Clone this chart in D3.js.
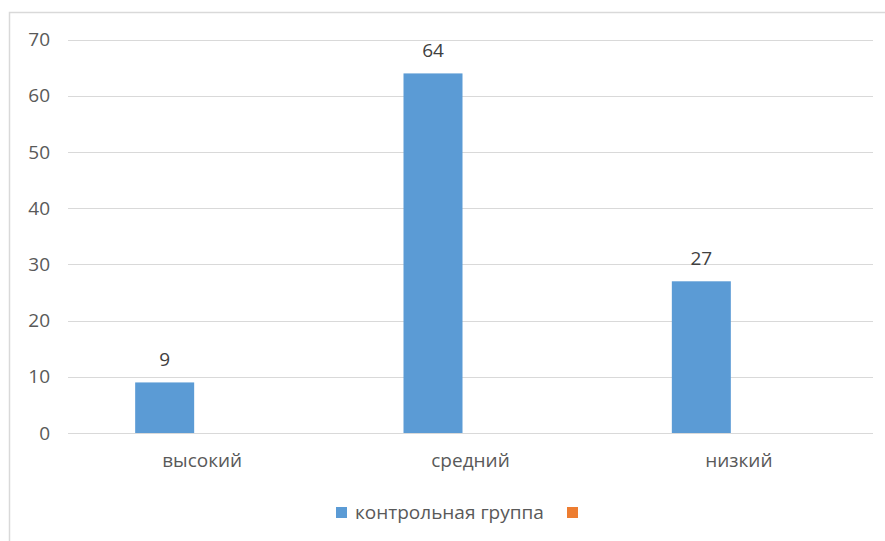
<!DOCTYPE html>
<html><head><meta charset="utf-8">
<script src="https://cdn.jsdelivr.net/npm/d3@7"></script>
<style>body{margin:0;background:#fff}svg{display:block}text{font-family:"Open Sans",sans-serif}</style>
</head><body>
<script>
const categories = ["высокий", "средний", "низкий"];
const seriesNames = ["контрольная группа", ""];
const series1 = [9, 64, 27];
const series2 = [null, null, null];
const yTicks = [0, 10, 20, 30, 40, 50, 60, 70];
const colors = ["#5b9bd5", "#ed7d31"];

(function () {
const W = 885, H = 541;
const svg = d3.select("body").append("svg").attr("width", W).attr("height", H);
svg.append("rect").attr("x", 9.5).attr("y", 12.5).attr("width", 900).attr("height", 600)
  .attr("fill", "#fff").attr("stroke", "#d9d9d9").attr("stroke-width", 1.5);

const pl = 68, pr = 873, pt = 39.7, pb = 433;
const fs = 19;
const x = d3.scaleBand().domain(categories).range([pl, pr]);
const y = d3.scaleLinear().domain([0, 70]).range([pb, pt]);

const grid = svg.append("g");
grid.selectAll("line").data(yTicks).join("line")
  .attr("x1", pl).attr("x2", pr)
  .attr("y1", d => Math.round(y(d)) + 0.5).attr("y2", d => Math.round(y(d)) + 0.5)
  .attr("stroke", "#d9d9d9").attr("stroke-width", 1);

const yAxis = svg.append("g").attr("transform", `translate(${pl},0)`)
  .call(d3.axisLeft(y).tickValues(yTicks).tickSize(0).tickPadding(18));
yAxis.select(".domain").remove();
yAxis.selectAll("text").attr("font-size", fs).attr("fill", "#595959").attr("font-family", "Open Sans");

const xAxis = svg.append("g").attr("transform", `translate(0,${pb})`)
  .call(d3.axisBottom(x).tickSize(0).tickPadding(21));
xAxis.select(".domain").remove();
xAxis.selectAll("text").attr("font-size", fs).attr("fill", "#595959").attr("font-family", "Open Sans");

const bw = 59, gap = 8;
const allSeries = [series1, series2];
allSeries.forEach((vals, si) => {
  const g = svg.append("g");
  const data = categories.map((c, i) => ({c, v: vals[i]})).filter(d => d.v != null);
  const xpos = d => x(d.c) + x.bandwidth() / 2 + (si === 0 ? -gap - bw : gap);
  g.selectAll("rect").data(data).join("rect")
    .attr("x", xpos).attr("width", bw)
    .attr("y", d => y(d.v)).attr("height", d => y(0) - y(d.v))
    .attr("fill", colors[si]);
  g.selectAll("text").data(data).join("text")
    .attr("x", d => xpos(d) + bw / 2).attr("y", d => y(d.v) - 16)
    .attr("text-anchor", "middle").attr("font-size", fs).attr("fill", "#404040")
    .text(d => d.v);
});

const lg = svg.append("g");
lg.append("rect").attr("x", 336).attr("y", 507).attr("width", 11).attr("height", 11).attr("fill", colors[0]);
lg.append("text").attr("x", 355).attr("y", 519).attr("font-size", fs).attr("fill", "#595959").text(seriesNames[0]);
lg.append("rect").attr("x", 567).attr("y", 507).attr("width", 11).attr("height", 11).attr("fill", colors[1]);
})();
</script>
</body></html>
